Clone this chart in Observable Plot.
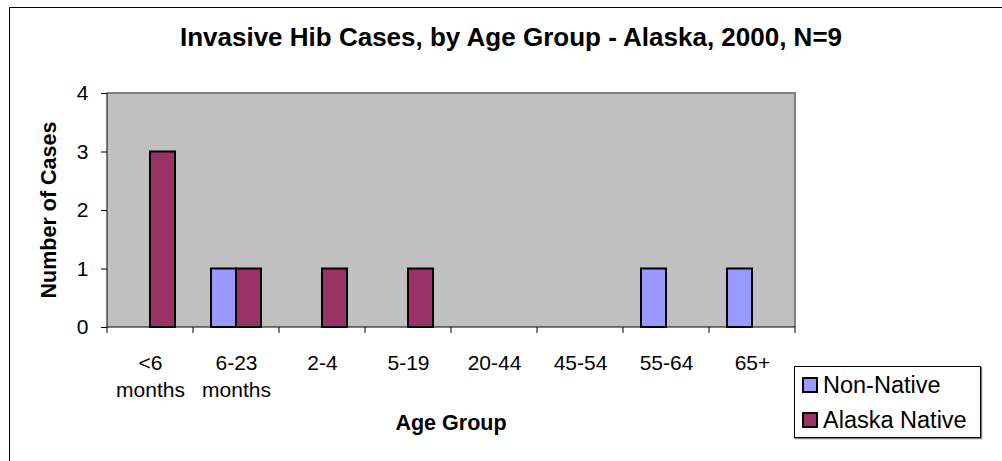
<!DOCTYPE html>
<html>
<head>
<meta charset="utf-8">
<script src="https://cdn.jsdelivr.net/npm/d3@7"></script>
<script src="https://cdn.jsdelivr.net/npm/@observablehq/plot@0.6"></script>
<style>
  html, body { margin: 0; padding: 0; background: #fff; }
  #wrap { position: relative; width: 1002px; height: 461px; overflow: hidden; background: #fff; }
  #wrap > * { position: absolute; left: 0; top: 0; }
  #frameBox { left: 9px; top: 7px; width: 1200px; height: 800px; border-left: 1px solid #000; border-top: 1px solid #000; box-sizing: border-box; }
</style>
</head>
<body>
<div id="wrap">
  <div id="frameBox"></div>
</div>
<script>
const title = "Invasive Hib Cases, by Age Group - Alaska, 2000, N=9";
const xLabel = "Age Group";
const yLabel = "Number of Cases";
const categories = ["<6\nmonths", "6-23\nmonths", "2-4", "5-19", "20-44", "45-54", "55-64", "65+"];
const series = ["Non-Native", "Alaska Native"];
const nonNative = [0, 1, 0, 0, 0, 0, 1, 1];
const alaskaNative = [3, 1, 1, 1, 0, 0, 0, 0];
const yTicks = [0, 1, 2, 3, 4];
const colors = ["#9999ff", "#993366"];

const rows = categories.flatMap((c, i) => [
  {cat: c, series: series[0], value: nonNative[i]},
  {cat: c, series: series[1], value: alaskaNative[i]}
]).filter(d => d.value > 0);

const font = "'Liberation Sans', Arial, sans-serif";
const W = 1002, H = 461, mL = 104, mR = 204, mT = 93, mB = 134;

const plot = Plot.plot({
  width: W, height: H,
  marginLeft: mL, marginRight: mR, marginTop: mT, marginBottom: mB,
  style: {fontFamily: font, fontSize: "21px", background: "transparent", color: "#000", overflow: "visible"},
  fx: {domain: categories, padding: 0, axis: null, label: null},
  x: {domain: series, paddingInner: 0, paddingOuter: 0.668, axis: null},
  y: {domain: [0, 4], ticks: yTicks, tickFormat: d => String(d), tickSize: 6, tickPadding: 13, label: null},
  color: {domain: series, range: colors},
  marks: [
    Plot.barY(rows, {fx: "cat", x: "series", y: "value", fill: "series", stroke: "#000", strokeWidth: 2}),
    Plot.text(categories, {fx: d => d, text: d => d, frameAnchor: "bottom", lineAnchor: "top", dy: 23.5, lineHeight: 1.29, fontSize: 21, fill: "#000"})
  ]
});

const wrap = document.getElementById("wrap");
wrap.appendChild(plot);

// plot-area background, axis lines, category boundary ticks and border
const svg = d3.select(plot);
const fx = plot.scale("fx");
const yS = plot.scale("y");
const y0 = yS.apply(0), y4 = yS.apply(4);
const bw = fx.bandwidth;
const xs = categories.map(c => fx.apply(c));
const xLeft = xs[0], xRight = xs[xs.length - 1] + bw;
svg.insert("rect", ":first-child").attr("x", xLeft).attr("y", y4).attr("width", xRight - xLeft).attr("height", y0 - y4).attr("fill", "#c0c0c0");
svg.select("style").lower();
const g = svg.append("g");
g.append("line").attr("x1", xLeft).attr("x2", xRight + 1).attr("y1", y4).attr("y2", y4).attr("stroke", "#808080").attr("stroke-width", 2);
g.append("line").attr("x1", xRight).attr("x2", xRight).attr("y1", y4).attr("y2", y0).attr("stroke", "#808080").attr("stroke-width", 2);
g.append("line").attr("x1", xLeft).attr("x2", xLeft).attr("y1", y4).attr("y2", y0).attr("stroke", "#000").attr("stroke-width", 1);
g.append("line").attr("x1", xLeft).attr("x2", xRight).attr("y1", y0).attr("y2", y0).attr("stroke", "#000").attr("stroke-width", 1);
[...xs, xRight].forEach(x => {
  g.append("line").attr("x1", x).attr("x2", x).attr("y1", y0).attr("y2", y0 + 6).attr("stroke", "#000").attr("stroke-width", 1);
});

// overlay: title, axis titles, legend
const ov = d3.select(wrap).append("svg").attr("width", W).attr("height", H).style("pointer-events", "none");
ov.append("text").attr("x", 511).attr("y", 46).attr("text-anchor", "middle")
  .attr("font-family", font).attr("font-weight", "bold").attr("font-size", 26).text(title);
ov.append("text").attr("x", (xLeft + xRight) / 2).attr("y", 430).attr("text-anchor", "middle")
  .attr("font-family", font).attr("font-weight", "bold").attr("font-size", 21.5).text(xLabel);
ov.append("text").attr("transform", `translate(56,${(y0 + y4) / 2}) rotate(-90)`).attr("text-anchor", "middle")
  .attr("font-family", font).attr("font-weight", "bold").attr("font-size", 21.5).text(yLabel);

const lg = ov.append("g");
lg.append("rect").attr("x", 795.5).attr("y", 367.5).attr("width", 186).attr("height", 71).attr("fill", "none").attr("stroke", "#808080").attr("stroke-width", 1.5);
lg.append("rect").attr("x", 794.5).attr("y", 366.5).attr("width", 186).attr("height", 71).attr("fill", "#fff").attr("stroke", "#000").attr("stroke-width", 1);
series.forEach((s, i) => {
  const yy = 378 + i * 35;
  lg.append("rect").attr("x", 803).attr("y", yy).attr("width", 14).attr("height", 14).attr("fill", colors[i]).attr("stroke", "#000").attr("stroke-width", 2);
  lg.append("text").attr("x", 823).attr("y", yy + 15).attr("font-family", font).attr("font-size", 23.5).text(s);
});
</script>
</body>
</html>
